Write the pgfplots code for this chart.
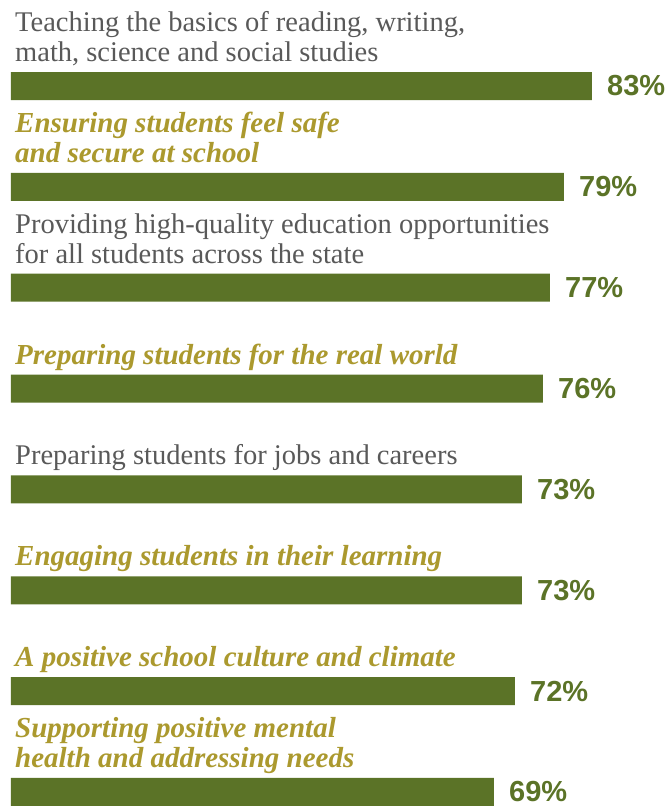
\documentclass[border=0pt]{standalone}
\usepackage{pgfplots}
\pgfplotsset{compat=1.18}
\usepackage{fontspec}
\setmainfont{Liberation Serif}
\newfontfamily\valfont{Liberation Sans}
\definecolor{barg}{HTML}{5B7327}
\definecolor{gold}{HTML}{AB992E}
\definecolor{txtgray}{HTML}{595959}
\begin{document}
\begin{tikzpicture}
\begin{axis}[
  scale only axis, width=671bp, height=806bp,
  xmin=-1.571, xmax=94.29,
  ymin=-0.853, ymax=7.139, y dir=reverse,
  hide axis, clip=false,
  xbar, bar width=28bp,
  point meta=x,
  nodes near coords={\pgfmathprintnumber[assume math mode=true]{\pgfplotspointmeta}\%},
  every node near coord/.append style={font=\valfont\bfseries\fontsize{29bp}{30bp}\selectfont, text=barg, inner sep=0pt, xshift=15bp, anchor=west},
]
\addplot[fill=barg, draw=none] coordinates {
(83,0) (79,1) (77,2) (76,3) (73,4) (73,5) (72,6) (69,7)};
\tikzset{gl/.style={anchor=base west, inner sep=0pt, text=txtgray, font=\fontsize{28.5bp}{30bp}\selectfont},
         il/.style={anchor=base west, inner sep=0pt, text=gold, font=\fontsize{29bp}{30bp}\selectfont\bfseries\itshape}}
\def\da{0.243}\def\db{0.540}
\node[gl] at (axis cs:0.57,0-\db) {Teaching the basics of reading, writing,};
\node[gl] at (axis cs:0.57,0-\da) {math, science and social studies};
\node[il] at (axis cs:0.57,1-\db) {Ensuring students feel safe};
\node[il] at (axis cs:0.57,1-\da) {and secure at school};
\node[gl] at (axis cs:0.57,2-\db) {Providing high-quality education opportunities};
\node[gl] at (axis cs:0.57,2-\da) {for all students across the state};
\node[il] at (axis cs:0.57,3-\da) {Preparing students for the real world};
\node[gl] at (axis cs:0.57,4-\da) {Preparing students for jobs and careers};
\node[il] at (axis cs:0.57,5-\da) {Engaging students in their learning};
\node[il] at (axis cs:0.57,6-\da) {A positive school culture and climate};
\node[il] at (axis cs:0.57,7-\db) {Supporting positive mental};
\node[il] at (axis cs:0.57,7-\da) {health and addressing needs};
\end{axis}
\pgfresetboundingbox
\path (current axis.south west) rectangle (current axis.north east);
\end{tikzpicture}
\end{document}
